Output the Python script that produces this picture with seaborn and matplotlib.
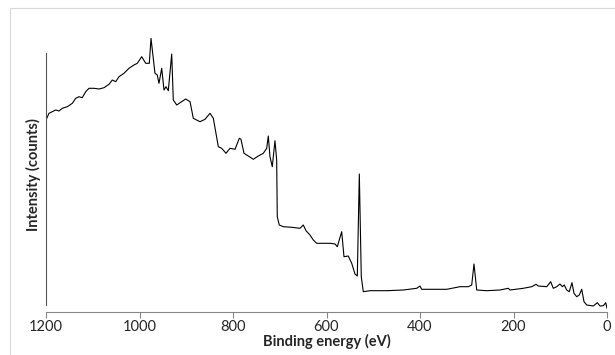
import numpy as np
import pandas as pd
import seaborn as sns
import matplotlib.pyplot as plt
from matplotlib.patches import Rectangle

# XPS survey spectrum
binding_energy = [
    1200, 1193.6, 1186.5, 1179.3, 1172.2, 1165.1, 1154.4, 1143.7, 1136.5, 1129.4,
    1122.4, 1115.1, 1108.0, 1097.3, 1086.6, 1075.9, 1065.2, 1058.2, 1050.9, 1043.9,
    1033.2, 1022.5, 1011.8, 1004.7, 995.3, 986.7, 979.0, 975.4, 966.9, 962.0,
    958.3, 952.5, 947.6, 943.3, 938.4, 931.1, 927.7, 920.4, 909.7, 901.2,
    891.9, 884.9, 870.6, 859.9, 849.2, 842.1, 831.4, 824.2, 815.0, 806.4,
    795.7, 786.5, 782.9, 776.5, 767.3, 756.6, 745.9, 735.2, 727.9, 724.5,
    720.9, 716.0, 710.2, 706.6, 705.3, 701.0, 692.4, 674.4, 656.7, 649.6,
    643.9, 635.3, 628.2, 621.0, 592.5, 581.8, 576.9, 567.5, 562.6, 553.4,
    546.1, 539.1, 534.1, 529.8, 525.6, 521.3, 507.0, 471.2, 435.7, 407.1,
    400.0, 396.4, 378.6, 342.9, 314.4, 296.7, 289.4, 284.5, 278.7, 257.3,
    228.9, 211.1, 207.5, 179.1, 161.1, 151.9, 147.0, 129.0, 120.5, 114.9,
    107.6, 100.6, 95.6, 91.4, 86.2, 80.7, 74.9, 70.6, 64.8, 59.3,
    54.1, 49.2, 43.4, 29.3, 20.7, 15.0, 7.9, 2.7, 0.0,
]
intensity = [
    48000, 49675, 50075, 50500, 50250, 50925, 51325, 52175, 53425, 53825,
    53575, 55075, 55925, 55925, 55750, 56075, 56925, 58000, 57575, 58825,
    59675, 60925, 61750, 62175, 63825, 62175, 62175, 68425, 59675, 59250,
    57175, 60925, 55500, 56325, 55325, 64500, 53000, 51750, 52575, 53250,
    52575, 48425, 47575, 48175, 49675, 48425, 41325, 40925, 39675, 40925,
    40675, 43425, 43175, 39675, 39000, 38175, 39000, 39675, 40925, 44000,
    38825, 36325, 42825, 38000, 23825, 21750, 21325, 21175, 20925, 21750,
    20325, 19250, 18000, 17175, 17175, 17000, 16325, 20075, 13825, 14000,
    12175, 9500, 9000, 34500, 8825, 5075, 5325, 5325, 5500, 5925,
    6500, 5675, 5675, 5675, 6325, 6325, 6750, 12000, 5500, 5325,
    5500, 5925, 5500, 5925, 6325, 6925, 6500, 6325, 7575, 5925,
    6325, 7000, 6325, 6750, 5500, 5075, 7325, 4675, 3825, 4250,
    5675, 2575, 1750, 1500, 2325, 1500, 1575, 2325, 925,
]
# extent of the vertical line drawn at 1200 eV
left_line = [1750, 64825]

xticks = [1200, 1000, 800, 600, 400, 200, 0]

df = pd.DataFrame({"energy": binding_energy, "counts": intensity})

sns.set_style("white")
plt.rcParams["font.family"] = ["Lato", "DejaVu Sans"]

fig = plt.figure(figsize=(6.15, 3.55), dpi=100)
ax = fig.add_axes([46 / 615, 1 - 312 / 355, 561 / 615, 274 / 355])

sns.lineplot(data=df, x="energy", y="counts", ax=ax, color="black",
             linewidth=0.8, estimator=None)

ax.set_xlim(1200, 0)
ax.set_ylim(0, 68500)
ax.set_xticks(xticks)
ax.set_yticks([])
ax.tick_params(axis="x", direction="out", length=4, width=0.8,
               color="#868686", labelsize=10.5, pad=2, bottom=True)

for side in ["top", "right"]:
    ax.spines[side].set_visible(False)
ax.spines["bottom"].set_color("#868686")
ax.spines["bottom"].set_linewidth(0.8)
ax.spines["left"].set_color("#555555")
ax.spines["left"].set_linewidth(0.8)
ax.spines["left"].set_bounds(left_line[0], left_line[1])

ax.set_xlabel("Binding energy (eV)", fontsize=10.5, fontweight="bold", labelpad=0)
ax.set_ylabel("Intensity (counts)", fontsize=10.5, fontweight="bold", labelpad=3.5)

# light chart-area border (only left and top edges are in frame)
fig.add_artist(Rectangle((10 / 615, -0.5), 1.5, 1.5 - 8 / 355,
                         transform=fig.transFigure, fill=False,
                         edgecolor="#d9d9d9", linewidth=0.8))

fig.savefig("out.png", dpi=100)
